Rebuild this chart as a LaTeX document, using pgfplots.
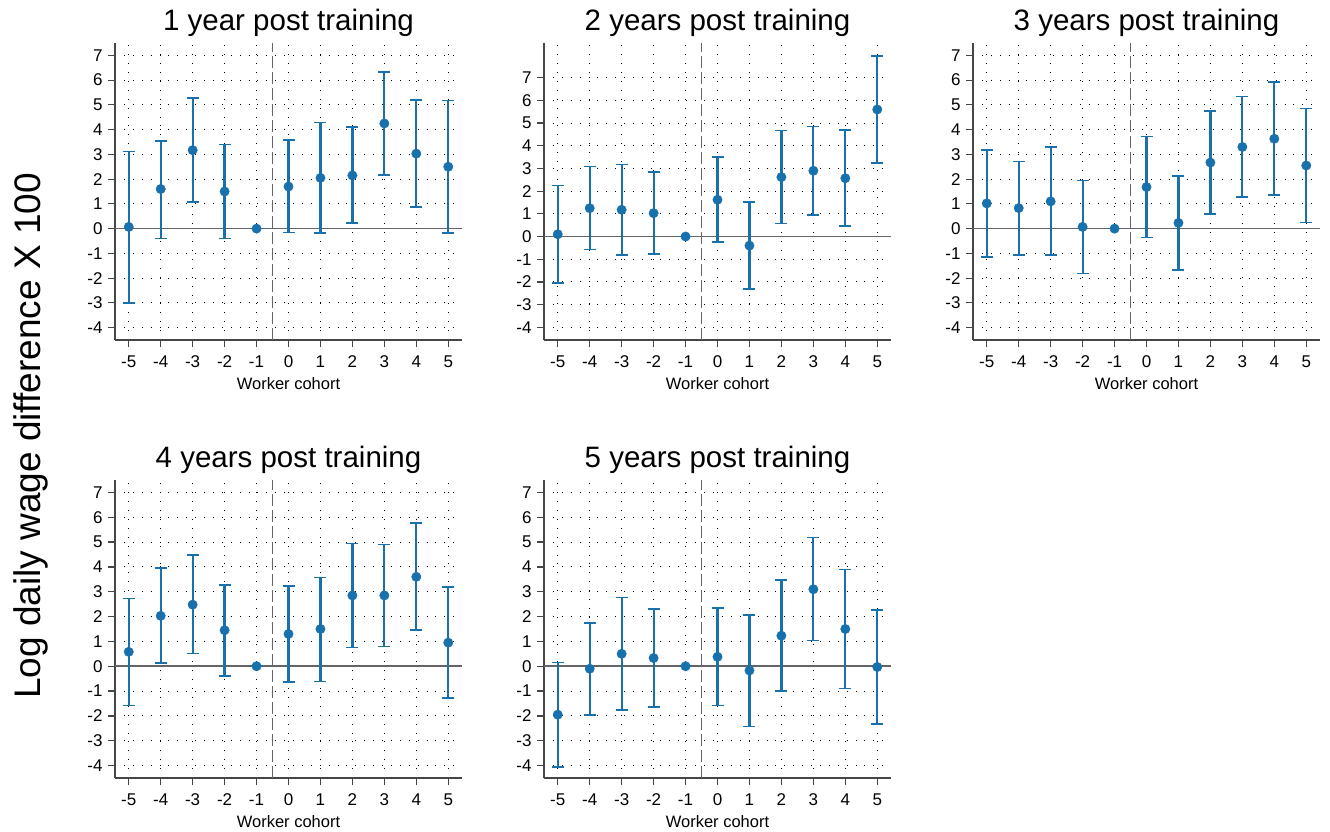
\documentclass[border=0pt]{standalone}
\usepackage{fontspec}
\setmainfont{Liberation Sans}
\usepackage{pgfplots}
\pgfplotsset{compat=1.18}
\usepackage{pgfplotstable}

\definecolor{stblue}{RGB}{24,112,172}
\definecolor{axgray}{RGB}{70,70,70}
\definecolor{refgray}{RGB}{100,100,105}

% cohort, estimate, lower CI, upper CI
\pgfplotstableread{
x y lo hi
-5 0.07 -3.00 3.12
-4 1.60 -0.40 3.55
-3 3.17 1.08 5.27
-2 1.50 -0.40 3.40
-1 0 0 0
0 1.70 -0.15 3.57
1 2.05 -0.17 4.28
2 2.15 0.22 4.10
3 4.25 2.17 6.33
4 3.03 0.88 5.20
5 2.50 -0.17 5.18
}\tabA
\pgfplotstableread{
x y lo hi
-5 0.10 -2.05 2.25
-4 1.25 -0.57 3.08
-3 1.18 -0.82 3.18
-2 1.03 -0.77 2.84
-1 0 0 0
0 1.62 -0.25 3.50
1 -0.40 -2.30 1.53
2 2.62 0.57 4.68
3 2.90 0.95 4.85
4 2.57 0.47 4.70
5 5.60 3.23 7.95
}\tabB
\pgfplotstableread{
x y lo hi
-5 1.02 -1.15 3.17
-4 0.83 -1.07 2.71
-3 1.10 -1.06 3.30
-2 0.07 -1.82 1.95
-1 0 0 0
0 1.68 -0.36 3.72
1 0.23 -1.67 2.13
2 2.67 0.60 4.75
3 3.30 1.28 5.33
4 3.63 1.35 5.93
5 2.55 0.24 4.85
}\tabC
\pgfplotstableread{
x y lo hi
-5 0.58 -1.58 2.72
-4 2.03 0.12 3.95
-3 2.48 0.51 4.48
-2 1.45 -0.40 3.27
-1 0 0 0
0 1.30 -0.63 3.23
1 1.50 -0.62 3.58
2 2.85 0.75 4.95
3 2.85 0.80 4.90
4 3.60 1.47 5.78
5 0.95 -1.28 3.18
}\tabD
\pgfplotstableread{
x y lo hi
-5 -1.95 -4.05 0.15
-4 -0.10 -1.97 1.75
-3 0.50 -1.77 2.77
-2 0.33 -1.65 2.30
-1 0 0 0
0 0.38 -1.58 2.35
1 -0.17 -2.42 2.07
2 1.23 -1.00 3.47
3 3.10 1.03 5.18
4 1.50 -0.90 3.90
5 -0.03 -2.32 2.27
}\tabE

\pgfplotsset{panel/.style={
  scale only axis, width=347pt, height=297pt, anchor=south west,
  xmin=-5.43, xmax=5.43, ymin=-4.5, ymax=7.5,
  axis x line*=bottom, axis y line*=left,
  axis line style={axgray, line width=1.3pt, -},
  xtick={-5,...,5}, ytick={-4,...,7},
  tick align=outside, major tick length=7pt,
  tick style={axgray, line width=1.2pt},
  grid=major, major grid style={black, line width=0.9pt, dash pattern=on 0.9pt off 8pt},
  /pgf/number format/assume math mode=true,
  tick label style={font=\fontsize{17}{20}\selectfont},
  xticklabel style={yshift=-5pt},
  yticklabel style={xshift=-2pt},
  xlabel={Worker cohort},
  xlabel style={font=\fontsize{16.5}{19}\selectfont, at={(0.5,0)}, anchor=base, yshift=-50pt},
  title style={font=\fontsize{29.5}{34}\selectfont, at={(0.5,1)}, anchor=base, yshift=6pt},
}}

\newcommand{\drawpanel}[4]{%
\begin{axis}[panel, at={#1}, title={#2}, #4]
  \draw[refgray, line width=1.5pt] ({rel axis cs:0,0}|-{axis cs:0,0}) -- ({rel axis cs:1,0}|-{axis cs:0,0});
  \draw[refgray, line width=1.1pt, dash pattern=on 12pt off 4pt] ({axis cs:-0.5,0}|-{rel axis cs:0,0}) -- ({axis cs:-0.5,0}|-{rel axis cs:0,1});
  \addplot[stblue, only marks, mark=*, mark size=4.7pt,
    mark options={draw=stblue, fill=stblue, line width=0.4pt},
    error bars/.cd, y dir=both, y explicit,
    error bar style={stblue, line width=2.2pt},
    error mark options={stblue, line width=1.6pt, mark size=6pt, rotate=90}]
    table[x=x, y=y, y error plus expr=\thisrow{hi}-\thisrow{y},
          y error minus expr=\thisrow{y}-\thisrow{lo}] {#3};
\end{axis}}

\begin{document}
\begin{tikzpicture}
\path[use as bounding box] (0pt,0pt) rectangle (1330pt,832pt);
\drawpanel{(115pt,492pt)}{1 year post training}{\tabA}{}
\drawpanel{(544pt,492pt)}{2 years post training}{\tabB}{ymin=-4.56, ymax=8.53}
\drawpanel{(973pt,492pt)}{3 years post training}{\tabC}{}
\drawpanel{(115pt,54pt)}{4 years post training}{\tabD}{height=298pt}
\drawpanel{(544pt,54pt)}{5 years post training}{\tabE}{height=298pt}
\node[rotate=90, font=\fontsize{37}{42}\selectfont] at (31pt,396pt) {Log daily wage difference X 100};
\end{tikzpicture}
\end{document}
